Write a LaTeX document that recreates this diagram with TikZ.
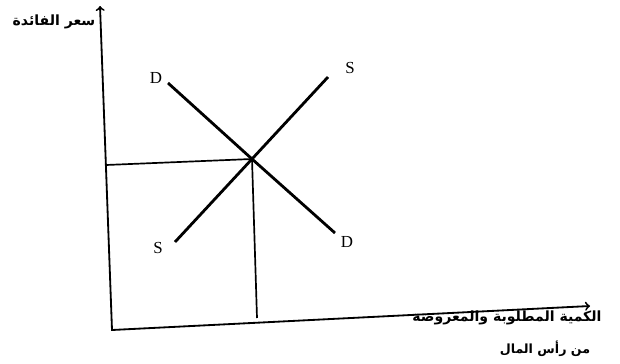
\documentclass[tikz,border=0pt]{standalone}
\usepackage{fontspec}
\setmainfont{Liberation Serif}
\newfontfamily\arabicfont[Script=Arabic]{DejaVu Sans}
\TeXXeTstate=1
\usetikzlibrary{arrows, calc}

\begin{document}
\begin{tikzpicture}[
  x=0.025cm, y=-0.025cm, font=\large,
  > = to,
  axis/.style = {line width=1.3pt},
  curve/.style = {line width=2pt},
  guide/.style = {line width=1.2pt},
  arlabel/.style = {font=\arabicfont\bfseries\fontsize{10}{12}\selectfont, inner sep=1pt}
  ]
  \useasboundingbox (0,0) rectangle (620,363);
  % axes
  \coordinate (O) at (112,330);
  \coordinate (ytop) at (100,6);
  \coordinate (xend) at (590,306);
  \draw[axis,<->] (ytop) -- (O) -- (xend);
  \node[arlabel,anchor=east] (rate) at (97,22) {\beginR سعر الفائدة\endR};
  \node[arlabel] (qty1) at (507,318) {\beginR الكمية المطلوبة والمعروضة\endR};
  \node[arlabel,font=\arabicfont\bfseries\fontsize{9}{11}\selectfont] (qty2) at (545,349) {\beginR من رأس المال\endR};
  % demand and supply
  \coordinate (E) at (252,159);
  \coordinate (d1) at (168,83);
  \coordinate (d2) at (335,233);
  \coordinate (s1) at (175,242);
  \coordinate (s2) at (328,77);
  \draw[curve] (d1) -- (E) -- (d2);
  \draw[curve] (s1) -- (E) -- (s2);
  \node (Dtop) at (156,78) {D};
  \node (Dbot) at (347,242) {D};
  \node (Stop) at (350,68) {S};
  \node (Sbot) at (158,248) {S};
  % equilibrium guides
  \coordinate (Ey) at (106,165);
  \coordinate (Ex) at (257,318);
  \draw[guide] (Ey) -- (E) -- (Ex);
\end{tikzpicture}
\end{document}
